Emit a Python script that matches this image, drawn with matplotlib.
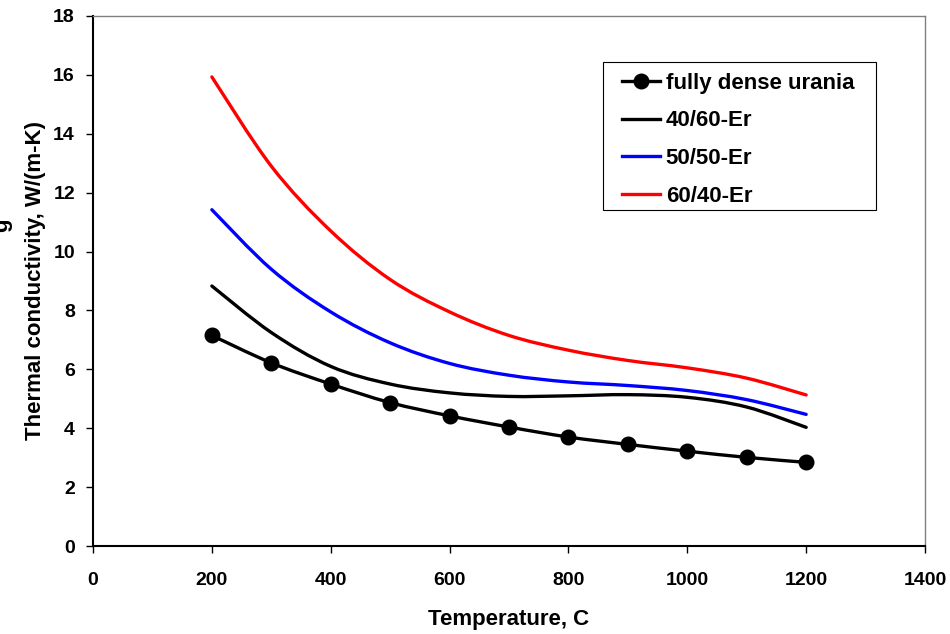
import numpy as np
import matplotlib.pyplot as plt
from matplotlib.path import Path
from matplotlib.patches import PathPatch, Rectangle
from matplotlib.lines import Line2D

temps = [200, 300, 400, 500, 600, 700, 800, 900, 1000, 1100, 1200]
urania = [7.15, 6.22, 5.5, 4.87, 4.42, 4.04, 3.70, 3.45, 3.22, 3.01, 2.84]
er_40_60 = [8.83, 7.25, 6.1, 5.5, 5.2, 5.08, 5.1, 5.14, 5.05, 4.72, 4.03]
er_50_50 = [11.42, 9.4, 7.95, 6.9, 6.2, 5.8, 5.57, 5.45, 5.28, 4.97, 4.47]
er_60_40 = [15.93, 12.9, 10.7, 9.05, 7.95, 7.15, 6.65, 6.3, 6.05, 5.7, 5.13]

FONT = "Liberation Sans"


def smooth_path(xs, ys):
    # Excel-style smoothed line as cubic bezier segments
    pts = np.column_stack([xs, ys]).astype(float)
    verts = [pts[0]]
    codes = [Path.MOVETO]
    n = len(pts)
    for i in range(n - 1):
        p0 = pts[i - 1] if i > 0 else pts[i]
        p1 = pts[i]
        p2 = pts[i + 1]
        p3 = pts[i + 2] if i + 2 < n else pts[i + 1]
        c1 = p1 + (p2 - p0) / 6.0
        c2 = p2 - (p3 - p1) / 6.0
        verts += [c1, c2, p2]
        codes += [Path.CURVE4] * 3
    return Path(verts, codes)


fig = plt.figure(figsize=(9.5, 6.34), dpi=100)
ax = fig.add_axes([0.0979, 0.1388, 0.8758, 0.836])

series = [
    ("fully dense urania", urania, "black"),
    ("40/60-Er", er_40_60, "black"),
    ("50/50-Er", er_50_50, "#0000ff"),
    ("60/40-Er", er_60_40, "#ff0000"),
]
handles = []
for i, (name, vals, col) in enumerate(series):
    patch = PathPatch(smooth_path(temps, vals), facecolor="none", edgecolor=col,
                      lw=2.4, capstyle="round", zorder=3)
    ax.add_patch(patch)
    if i == 0:
        ax.plot(temps, vals, "o", color="black", ms=10.5, zorder=4)
        handles.append(Line2D([], [], color=col, lw=2.4, marker="o", ms=10.5))
    else:
        handles.append(Line2D([], [], color=col, lw=2.4))

ax.set_xlim(0, 1400)
ax.set_ylim(0, 18)
ax.set_xticks(range(0, 1401, 200))
ax.set_yticks(range(0, 19, 2))

for s in ["top", "right"]:
    ax.spines[s].set_color("#808080")
    ax.spines[s].set_linewidth(1.0)
for s in ["left", "bottom"]:
    ax.spines[s].set_color("black")
    ax.spines[s].set_linewidth(1.5)
ax.tick_params(direction="out", length=5, width=1, labelsize=14,
               top=False, right=False)
ax.tick_params(axis="x", pad=14)
ax.tick_params(axis="y", pad=8)
for lab in ax.get_xticklabels() + ax.get_yticklabels():
    lab.set_fontfamily(FONT)
    lab.set_fontweight("bold")

ax.set_xlabel("Temperature, C", fontsize=16, fontweight="bold", family=FONT, labelpad=14)
ax.set_ylabel("Thermal conductivity, W/(m-K)", fontsize=16, fontweight="bold",
              family=FONT, labelpad=5)
# clipped fragment of an extra label at the left edge
fig.text(-0.009, 0.645, "g", rotation=90, fontsize=16, fontweight="bold",
         family=FONT, ha="left", va="center")

# legend box drawn separately so the padding can be wider than tall
ax.add_patch(Rectangle((0.613, 0.634), 0.328, 0.279, transform=ax.transAxes,
                       facecolor="white", edgecolor="black", lw=0.8, zorder=5))
leg = ax.legend(handles, [s[0] for s in series], loc="upper left",
                bbox_to_anchor=(0.636, 0.893), frameon=False,
                handlelength=1.71, handletextpad=0.25,
                labelspacing=0.75, borderpad=0, borderaxespad=0,
                prop={"family": FONT, "weight": "bold", "size": 16})
leg.set_zorder(6)

fig.savefig("out.png", dpi=100)
